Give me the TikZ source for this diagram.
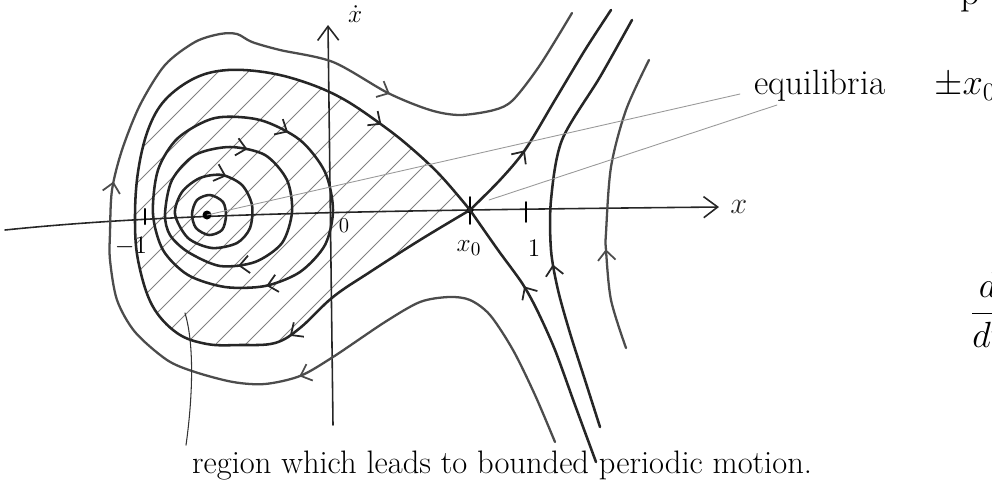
\documentclass[tikz,border=0pt]{standalone}
\usepackage{amsmath,amssymb}
\usepackage{xcolor}
\usepackage{tikz}
\usetikzlibrary{arrows.meta,decorations.markings}
\tikzset{
  ejeflecha/.style = {-{Straight Barb[length=8pt,width=12pt]}, black!85, line width=0.9pt},
  orbita/.style    = {black!85, line width=1.45pt},
  abierta/.style   = {black!70, line width=1.3pt},
  rayado/.style    = {black!50, line width=0.55pt},
  guia/.style      = {black!40, line width=0.5pt},
  texto/.style     = {font=\fontsize{18.5}{21}\selectfont},
  rotulo/.style    = {font=\fontsize{15}{17}\selectfont},
  flujo/.style     = {postaction={decorate, decoration={markings,
      mark=at position #1 with {\arrow[line width=1pt]{Straight Barb[length=5.5pt,width=10pt]}}}}}
}
% lazo homoclinico por x_0
\newcommand{\lazo}{plot[smooth, tension=0.6] coordinates {(470,210) (420,240) (370,272)
  (333,297) (300,328) (275,343) (240,345) (207,344) (177,333) (152,305) (138,260)
  (135,217) (138,172) (148,130) (165,100) (195,78) (228,70) (270,73) (310,84)
  (345,100) (382,125) (410,147) (440,175) (470,210)}}

\begin{document}
\begin{tikzpicture}[x=0.02cm, y=-0.02cm, line cap=round, line join=round]
  \useasboundingbox (0,0) rectangle (992,491);
  \coordinate (C) at (207,215);
  \coordinate (X0) at (470,210);
  \coordinate (O) at (333,211);

  % region rayada
  \begin{scope}
    \clip \lazo;
    \foreach \c in {200,230,...,830}{\draw[rayado] ({\c-400},400) -- (\c,0);}
  \end{scope}

  % ejes
  \draw[ejeflecha] (5,230) .. controls (150,215) and (320,211) .. (719,207)
    node[right, rotulo, font=\fontsize{18}{20}\selectfont, inner sep=6pt]{$x$};
  \draw[ejeflecha] (333,425) -- (328,25);
  \node[rotulo, anchor=west] (xp) at (342,14){$\dot{x}$};
  \draw[black, line width=1.2pt] (145,209) -- (145,224);
  \draw[black, line width=1pt] (470,197) -- (470,224);
  \draw[black, line width=1pt] (526,202) -- (526,222);
  \fill (C) circle (4.5);
  \fill (X0) circle (3.5);
  \node[rotulo, font=\fontsize{12}{14}\selectfont] at (344,226){$0$};
  \node[rotulo] at (131,246){$-1$};
  \node[rotulo] at (469,248){$x_0$};
  \node[rotulo] at (534,248){$1$};

  % orbitas cerradas
  \draw[orbita] plot[smooth cycle] coordinates {(192,214) (197,200) (210,195) (223,202)
    (226,216) (222,230) (209,235) (196,228)};
  \draw[orbita, flujo=0.21] plot[smooth cycle] coordinates {(175,214) (182,192) (200,178)
    (222,175) (242,185) (252,205) (250,228) (237,243) (212,248) (188,238)};
  \draw[orbita, flujo=0.225, flujo=0.655] plot[smooth cycle] coordinates {(165,214) (172,180)
    (195,155) (230,147) (265,155) (287,180) (292,212) (282,243) (255,262) (220,266)
    (188,252) (170,235)};
  \draw[orbita, flujo=0.28, flujo=0.645] plot[smooth cycle] coordinates {(153,214) (158,170)
    (178,138) (215,118) (260,120) (300,140) (325,172) (333,210) (325,245) (300,272)
    (265,286) (225,287) (188,275) (163,250)};

  % separatrices
  \draw[orbita, flujo=0.232, flujo=0.87] \lazo;
  \draw[orbita, flujo=0.33] plot[smooth] coordinates {(470,210) (500,180) (525,150)
    (555,100) (585,50) (611,10)};
  \draw[orbita, flujo=0.67] plot[smooth] coordinates {(596,462) (575,405) (555,350)
    (537,310) (522,283) (498,250) (470,210)};

  % orbitas abiertas
  \draw[abierta, flujo=0.276, flujo=0.533, flujo=0.82] plot[smooth] coordinates {(555,442)
    (535,395) (513,350) (490,315) (470,300) (449,297) (420,302) (385,322) (333,357)
    (300,376) (265,384) (233,382) (195,372) (167,360) (135,332) (117,300) (110,260)
    (110,233) (112,190) (122,150) (140,105) (165,65) (195,42) (220,34) (237,34)
    (252,42) (280,50) (333,62) (388,93) (430,110) (460,115) (494,110) (513,100)
    (540,65) (572,13)};
  \draw[orbita, flujo=0.39] plot[smooth] coordinates {(600,427) (585,380) (570,333)
    (558,290) (551,250) (551,200) (562,140) (600,77) (632,20)};
  \draw[abierta, flujo=0.34] plot[smooth] coordinates {(626,348) (611,300) (606,250)
    (606,233) (611,167) (626,110) (649,60)};

  % rotulos
  \node[texto, font=\fontsize{20}{22}\selectfont, anchor=west] (equi) at (748,86){equilibria\hspace{1.4em}$\pm x_0$};
  \coordinate (g1) at (740,94);
  \coordinate (g2) at (777,105);
  \draw[guia] (g1) -- (C);
  \draw[guia] (g2) -- (489,200);
  \node[texto, anchor=west] (region) at (186,466){region which leads to bounded periodic motion.};
  \coordinate (r0) at (185,313);
  \draw[black!80, line width=0.6pt] (r0) .. controls (196,350) and (191,410) .. (region.north west);
  \node[font=\fontsize{22}{24}\selectfont, anchor=west] (frag1) at (954,0){p};
  \node[font=\fontsize{20}{22}\selectfont, anchor=west] (frag2) at (964,310){$\dfrac{d}{dt}$};
\end{tikzpicture}
\end{document}
